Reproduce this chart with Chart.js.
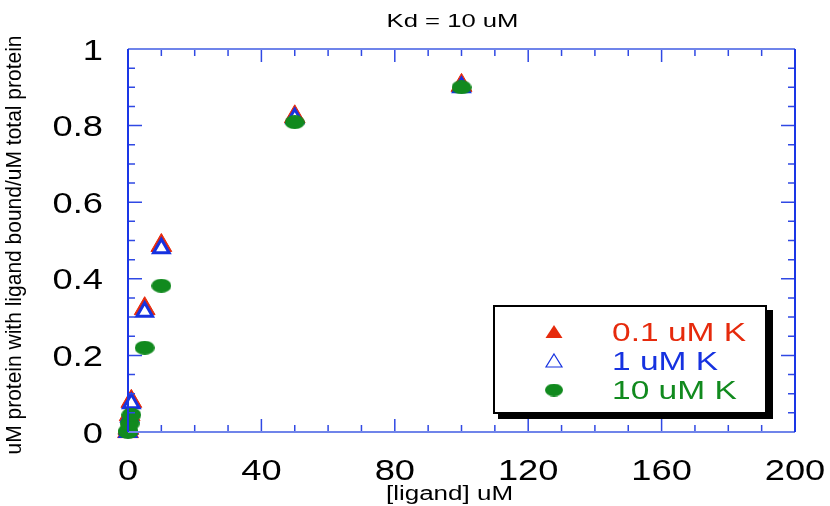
<!DOCTYPE html>
<html>
<head>
<meta charset="utf-8">
<script src="https://cdn.jsdelivr.net/npm/chart.js@4/dist/chart.umd.min.js"></script>
<style>
  html, body { margin: 0; padding: 0; background: #fff; }
  #wrap { width: 830px; height: 506px; }
</style>
</head>
<body>
<div id="wrap"><canvas id="kdChart"></canvas></div>
<script>
// ligand concentration (uM) and fraction of protein with ligand bound
const ligand = [0.01, 0.1, 0.5, 1, 5, 10, 50, 100];
const bound01 = [0.001, 0.01, 0.045, 0.08, 0.322, 0.487, 0.823, 0.905];
const bound1 = [0, 0.008, 0.04, 0.075, 0.314, 0.48, 0.819, 0.9];
const bound10 = [0, 0.004, 0.022, 0.045, 0.22, 0.382, 0.809, 0.9];

const seriesLabels = ["0.1 uM K", "1 uM K", "10 uM K"];
const xTickVals = [0, 40, 80, 120, 160, 200];
const yTickVals = [0, 0.2, 0.4, 0.6, 0.8, 1];
const yTickLabels = ["0", "0.2", "0.4", "0.6", "0.8", "1"];

const RED = "#e62a0c", BLUE = "#1632e0", GREEN = "#118a1e";
const FONT = '"Liberation Sans", Arial, sans-serif';

function pts(ys) {
  return ligand.map((x, i) => ({ x: x, y: ys[i] }));
}

// green marker is a flat ellipse
function ellipseImg(w, h, color) {
  const c = document.createElement("canvas");
  c.width = w; c.height = h;
  const g = c.getContext("2d");
  g.fillStyle = color;
  g.beginPath();
  g.ellipse(w / 2, h / 2, w / 2, h / 2, 0, 0, Math.PI * 2);
  g.fill();
  return c;
}
const greenDot = ellipseImg(20, 14, GREEN);
const greenDotSmall = ellipseImg(18, 13, GREEN);

// text looks horizontally stretched in the original, so draw it scaled
function sText(ctx, str, x, y, o) {
  ctx.save();
  ctx.translate(x, y);
  ctx.scale(o.sx || 1, 1);
  if (o.rot) ctx.rotate(o.rot);
  ctx.font = o.font;
  ctx.fillStyle = o.color || "#000";
  ctx.textAlign = o.align || "center";
  ctx.textBaseline = o.base || "alphabetic";
  ctx.fillText(str, 0, 0);
  ctx.restore();
}

const framePlugin = {
  id: "frame",
  afterDatasetsDraw(chart) {
    const { ctx, chartArea: a, scales: { x, y } } = chart;
    ctx.save();
    ctx.lineWidth = 1.5;
    ctx.strokeStyle = "#3049e4";
    // x ticks, every 10, longer at labelled values
    for (let v = x.min; v <= x.max; v += 10) {
      const px = x.getPixelForValue(v);
      const len = v % 40 === 0 ? 13 : 7;
      ctx.beginPath();
      ctx.moveTo(px, a.bottom); ctx.lineTo(px, a.bottom - len);
      ctx.moveTo(px, a.top); ctx.lineTo(px, a.top + len);
      ctx.stroke();
    }
    // y ticks, every 0.05
    for (let i = 0; i <= 20; i++) {
      const v = i * 0.05;
      const py = y.getPixelForValue(v);
      const len = i % 4 === 0 ? 14 : 7;
      ctx.beginPath();
      ctx.moveTo(a.left, py); ctx.lineTo(a.left + len, py);
      ctx.moveTo(a.right, py); ctx.lineTo(a.right - len, py);
      ctx.stroke();
    }
    ctx.lineWidth = 2;
    ctx.strokeStyle = "#6f84ea";
    ctx.beginPath();
    ctx.moveTo(a.left, a.top); ctx.lineTo(a.right, a.top);
    ctx.moveTo(a.left, a.bottom); ctx.lineTo(a.right, a.bottom);
    ctx.stroke();
    ctx.strokeStyle = "#1a36e6";
    ctx.beginPath();
    ctx.moveTo(a.left, a.top); ctx.lineTo(a.left, a.bottom);
    ctx.moveTo(a.right, a.top); ctx.lineTo(a.right, a.bottom);
    ctx.stroke();
    ctx.restore();
  },
  afterDraw(chart) {
    const { ctx, chartArea: a, scales: { x, y } } = chart;
    const tickFont = "29px " + FONT;
    xTickVals.forEach(v => {
      sText(ctx, String(v), x.getPixelForValue(v), 480, { font: tickFont, sx: 1.25 });
    });
    yTickVals.forEach((v, i) => {
      sText(ctx, yTickLabels[i], 103, y.getPixelForValue(v) + 10.5,
        { font: tickFont, sx: 1.25, align: "right" });
    });
    const midX = (a.left + a.right) / 2;
    sText(ctx, "Kd = 10 uM", midX - 9, 27, { font: "19px " + FONT, sx: 1.35 });
    sText(ctx, "[ligand] uM", midX - 12, 500, { font: "20px " + FONT, sx: 1.3 });
    sText(ctx, "uM protein with ligand bound/uM total protein", 15, 245,
      { font: "21px " + FONT, sx: 1.05, rot: -Math.PI / 2, base: "middle" });

    // legend box with drop shadow
    ctx.save();
    ctx.fillStyle = "#000";
    ctx.fillRect(498, 310, 275, 109);
    ctx.fillStyle = "#fff";
    ctx.fillRect(493, 305, 274, 109);
    ctx.lineWidth = 2;
    ctx.strokeStyle = "#000";
    ctx.strokeRect(494, 306, 272, 107);
    ctx.restore();

    const rows = [332, 361, 390];
    const mx = 554;
    // red filled triangle
    ctx.save();
    ctx.fillStyle = RED;
    ctx.beginPath();
    ctx.moveTo(mx, rows[0] - 7); ctx.lineTo(mx + 8.5, rows[0] + 6); ctx.lineTo(mx - 8.5, rows[0] + 6);
    ctx.closePath(); ctx.fill();
    // blue open triangle
    ctx.strokeStyle = BLUE; ctx.lineWidth = 1.2;
    ctx.beginPath();
    ctx.moveTo(mx, rows[1] - 7); ctx.lineTo(mx + 8, rows[1] + 6); ctx.lineTo(mx - 8, rows[1] + 6);
    ctx.closePath(); ctx.stroke();
    ctx.drawImage(greenDotSmall, mx - 9, rows[2] - 6.5);
    ctx.restore();
    const cols = [RED, BLUE, GREEN];
    seriesLabels.forEach((s, i) => {
      sText(ctx, s, 612, rows[i] + 9, { font: "25px " + FONT, sx: 1.34, align: "left", color: cols[i] });
    });
  }
};

const ctx = document.getElementById("kdChart").getContext("2d");
const kdChart = new Chart(ctx, {
  type: "scatter",
  data: {
    datasets: [
      {
        label: seriesLabels[0],
        data: pts(bound01),
        pointStyle: "triangle",
        pointRadius: 12,
        backgroundColor: RED,
        borderColor: RED,
        borderWidth: 1,
        order: 3,
        clip: false
      },
      {
        label: seriesLabels[1],
        data: pts(bound1),
        pointStyle: "triangle",
        pointRadius: 9,
        backgroundColor: "#fff",
        borderColor: BLUE,
        borderWidth: 3,
        order: 2,
        clip: false
      },
      {
        label: seriesLabels[2],
        data: pts(bound10),
        pointStyle: greenDot,
        pointRadius: 10,
        backgroundColor: GREEN,
        borderColor: GREEN,
        order: 1,
        clip: false
      }
    ]
  },
  options: {
    responsive: true,
    maintainAspectRatio: false,
    animation: false,
    layout: { padding: { left: 128, right: 35, top: 49, bottom: 74 } },
    plugins: {
      legend: { display: false },
      title: { display: false },
      tooltip: { enabled: false }
    },
    scales: {
      x: { type: "linear", min: 0, max: 200, display: false },
      y: { type: "linear", min: 0, max: 1, display: false }
    }
  },
  plugins: [framePlugin]
});
</script>
</body>
</html>
